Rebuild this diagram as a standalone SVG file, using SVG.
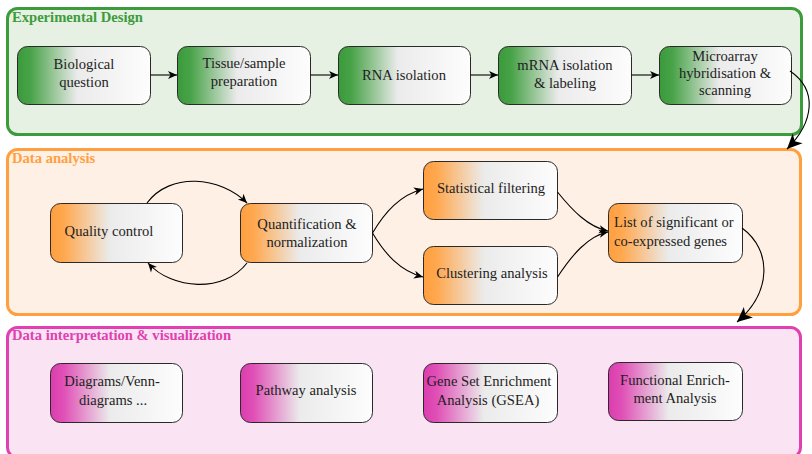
<svg xmlns="http://www.w3.org/2000/svg" width="812" height="454" viewBox="0 0 812 454">
<style>
.t{font-size:14.6px;fill:#1e1e1e;text-anchor:middle}
.h{font-size:14.6px;font-weight:bold}
.box{stroke:#2a2a2a;stroke-width:1}
.con{fill:none;stroke:#000;stroke-width:1.1}
</style>
<defs>
<linearGradient id="gG" x1="0" y1="0" x2="1" y2="0">
<stop offset="0" stop-color="#3a9a3a"/><stop offset="0.1" stop-color="#49a349"/><stop offset="0.45" stop-color="#ebebeb"/><stop offset="1" stop-color="#fdfdfd"/>
</linearGradient>
<linearGradient id="gO" x1="0" y1="0" x2="1" y2="0">
<stop offset="0" stop-color="#ff9f3f"/><stop offset="0.1" stop-color="#ffa84f"/><stop offset="0.45" stop-color="#ebebeb"/><stop offset="1" stop-color="#fdfdfd"/>
</linearGradient>
<linearGradient id="gM" x1="0" y1="0" x2="1" y2="0">
<stop offset="0" stop-color="#dc3caf"/><stop offset="0.1" stop-color="#e050b6"/><stop offset="0.45" stop-color="#ebebeb"/><stop offset="1" stop-color="#fdfdfd"/>
</linearGradient>
<marker id="s" viewBox="-10 -5 11 10" refX="0" refY="0" markerWidth="11" markerHeight="10" markerUnits="userSpaceOnUse" orient="auto">
<path d="M-9,-4 L0,0 L-9,4 L-6.5,0 Z" fill="#000"/>
</marker>
<marker id="L" viewBox="-16 -8 17 16" refX="0" refY="0" markerWidth="17" markerHeight="16" markerUnits="userSpaceOnUse" orient="auto">
<path d="M-15,-7 L0,0 L-15,7 L-11,0 Z" fill="#000"/>
</marker>
</defs>

<g font-family="Liberation Serif, Times New Roman, DejaVu Serif, serif">
<g id="experimental-design">
<rect x="7.5" y="8.5" width="794" height="126" rx="10" fill="#e6f1e3" stroke="#3c9c3c" stroke-width="3"/>
<text class="h" x="12" y="22" fill="#3c9c3c">Experimental Design</text>
</g>
<g id="data-analysis">
<rect x="7.5" y="149.5" width="793" height="165" rx="10" fill="#fef0e4" stroke="#ffa040" stroke-width="3"/>
<text class="h" x="12" y="163" fill="#ffa040">Data analysis</text>
</g>
<g id="data-interpretation">
<rect x="7.5" y="327.5" width="793" height="130" rx="10" fill="#fae4f4" stroke="#e040b0" stroke-width="3"/>
<text class="h" x="12" y="340" fill="#e040b0">Data interpretation &amp; visualization</text>
</g>

<g id="biological-question">
<rect class="box" x="17.5" y="46.5" width="133" height="58" rx="10" fill="url(#gG)"/>
<text class="t" x="84" y="69">Biological</text><text class="t" x="84" y="87">question</text>
</g>
<g id="tissue-sample">
<rect class="box" x="177.5" y="46.5" width="133" height="58" rx="10" fill="url(#gG)"/>
<text class="t" x="244" y="68">Tissue/sample</text><text class="t" x="244" y="86">preparation</text>
</g>
<g id="rna-isolation">
<rect class="box" x="338.5" y="46.5" width="132" height="58" rx="10" fill="url(#gG)"/>
<text class="t" x="404" y="80">RNA isolation</text>
</g>
<g id="mrna-isolation">
<rect class="box" x="498.5" y="46.5" width="133" height="58" rx="10" fill="url(#gG)"/>
<text class="t" x="565" y="70">mRNA isolation</text><text class="t" x="565" y="88">&amp; labeling</text>
</g>
<g id="microarray">
<rect class="box" x="659.5" y="46.5" width="132" height="58" rx="10" fill="url(#gG)"/>
<text class="t" x="725" y="61">Microarray</text><text class="t" x="725" y="78">hybridisation &amp;</text><text class="t" x="725" y="95">scanning</text>
</g>

<g id="quality-control">
<rect class="box" x="50.5" y="203.5" width="132" height="59" rx="10" fill="url(#gO)"/>
<text class="t" x="109" y="236">Quality control</text>
</g>
<g id="quantification">
<rect class="box" x="240.5" y="203.5" width="132" height="59" rx="10" fill="url(#gO)"/>
<text class="t" x="307" y="229">Quantification &amp;</text><text class="t" x="307" y="247">normalization</text>
</g>
<g id="statistical-filtering">
<rect class="box" x="423.5" y="161.5" width="134" height="58" rx="10" fill="url(#gO)"/>
<text class="t" x="491" y="193">Statistical filtering</text>
</g>
<g id="clustering-analysis">
<rect class="box" x="423.5" y="246.5" width="134" height="58" rx="10" fill="url(#gO)"/>
<text class="t" x="492" y="278">Clustering analysis</text>
</g>
<g id="significant-genes">
<rect class="box" x="608.5" y="203.5" width="134" height="59" rx="10" fill="url(#gO)"/>
<text class="t" x="614" y="227" text-anchor="start" style="text-anchor:start">List of significant or</text><text class="t" x="614" y="246" style="text-anchor:start">co-expressed genes</text>
</g>

<g id="venn-diagrams">
<rect class="box" x="50.5" y="363.5" width="132" height="59" rx="10" fill="url(#gM)"/>
<text class="t" x="112" y="386">Diagrams/Venn-</text><text class="t" x="113" y="405">diagrams ...</text>
</g>
<g id="pathway-analysis">
<rect class="box" x="240.5" y="363.5" width="132" height="59" rx="10" fill="url(#gM)"/>
<text class="t" x="306" y="395">Pathway analysis</text>
</g>
<g id="gsea">
<rect class="box" x="423.5" y="363.5" width="134" height="59" rx="10" fill="url(#gM)"/>
<text class="t" x="489" y="386">Gene Set Enrichment</text><text class="t" x="488" y="405">Analysis (GSEA)</text>
</g>
<g id="functional-enrichment">
<rect class="box" x="608.5" y="362.5" width="134" height="58" rx="10" fill="url(#gM)"/>
<text class="t" x="675" y="385">Functional Enrich-</text><text class="t" x="675" y="403">ment Analysis</text>
</g>
</g>

<g id="connectors">
<path class="con" d="M150.5,75 L177,75" marker-end="url(#s)"/>
<path class="con" d="M310.5,75 L338,75" marker-end="url(#s)"/>
<path class="con" d="M470.5,75 L498,75" marker-end="url(#s)"/>
<path class="con" d="M631.5,75 L659,75" marker-end="url(#s)"/>
<path class="con" d="M790,71 C818,90 814,122 787,149" marker-end="url(#L)"/>
<path class="con" d="M147,203 C170,172 220,176 247,203" marker-end="url(#s)"/>
<path class="con" d="M247,263 C224,293 172,290 148,263" marker-end="url(#s)"/>
<path class="con" d="M372.5,233 C385,212 400,195 423,189" marker-end="url(#s)"/>
<path class="con" d="M372.5,233 C385,254 400,271 423,277" marker-end="url(#s)"/>
<path class="con" d="M557.5,192 C572,210 588,227 608,231" marker-end="url(#s)"/>
<path class="con" d="M557.5,277 C572,255 588,236 608,232" marker-end="url(#s)"/>
<path class="con" d="M742,228 C772,250 772,292 737,322" marker-end="url(#L)"/>
</g>
</svg>
